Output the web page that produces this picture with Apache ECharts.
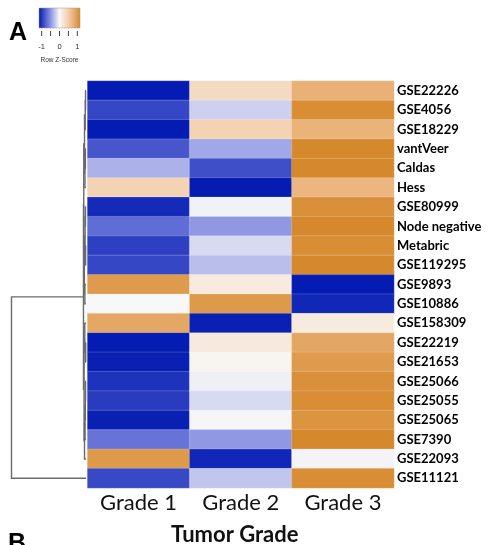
<!DOCTYPE html>
<html>
<head>
<meta charset="utf-8">
<script src="https://cdn.jsdelivr.net/npm/echarts@6/dist/echarts.min.js"></script>
<style>
html,body{margin:0;padding:0;background:#fff}
#chart{width:495px;height:545px}
</style>
</head>
<body>
<div id="chart"></div>
<script>
// Row labels (datasets), top to bottom
const datasets = ['GSE22226','GSE4056','GSE18229','vantVeer','Caldas','Hess','GSE80999',
  'Node negative','Metabric','GSE119295','GSE9893','GSE10886','GSE158309','GSE22219',
  'GSE21653','GSE25066','GSE25055','GSE25065','GSE7390','GSE22093','GSE11121'];
const grades = ['Grade 1','Grade 2','Grade 3'];

// Row z-scores per tumor grade
const grade1 = [-1.13,-0.90,-1.13,-0.82,-0.35, 0.42,-1.05,-0.70,-0.94,-0.90, 0.98, 0.00, 0.86,-1.13,-1.11,-1.01,-0.96,-1.11,-0.67, 0.99,-0.89];
const grade2 = [ 0.34,-0.20, 0.42,-0.40,-0.86,-1.13,-0.03,-0.48,-0.15,-0.29, 0.15, 0.99,-1.11, 0.17, 0.05,-0.04,-0.15,-0.01,-0.48,-1.07,-0.25];
const grade3 = [ 0.77, 1.10, 0.75, 1.15, 1.15, 0.72, 1.08, 1.15, 1.10, 1.15,-1.13,-1.07, 0.15, 0.87, 0.98, 1.08, 1.10, 1.04, 1.15,-0.02, 1.10];

// Colour key ticks
const keyTicks = [-1, -0.5, 0, 0.5, 1];
const keyTickLabels = ['-1', '', '0', '', '1'];

// Row clustering: [left, right, height]; ids >= datasets.length point to earlier merges
const merges = [
  [0, 1, 0.006], [21, 2, 0.010], [3, 4, 0.008], [23, 5, 0.014], [22, 24, 0.020],
  [6, 7, 0.007], [8, 9, 0.005], [26, 27, 0.012], [10, 11, 0.015], [28, 29, 0.022],
  [25, 30, 0.030], [13, 14, 0.004], [12, 32, 0.016], [15, 16, 0.006], [34, 17, 0.009],
  [35, 18, 0.013], [36, 19, 0.020], [33, 37, 0.026], [31, 38, 0.034], [39, 20, 1.0]
];

const zMin = -1.15, zMax = 1.15;
const palette = ['#0018B0', '#7B85DF', '#F8F8F8', '#F3C59C', '#D6892C'];

const heatData = [];
[grade1, grade2, grade3].forEach((col, gi) => {
  col.forEach((v, ri) => heatData.push([gi, ri, v]));
});

// Dendrogram segments: node position = (height, mean of child positions)
const n = datasets.length;
const nodePos = [];
for (let i = 0; i < n; i++) nodePos[i] = { h: 0, y: i };
const dendroData = merges.map((m, k) => {
  const a = nodePos[m[0]], b = nodePos[m[1]];
  nodePos[n + k] = { h: m[2], y: (a.y + b.y) / 2 };
  return [m[2], a.y, a.h, b.y, b.h];
});

const chart = echarts.init(document.getElementById('chart'), null, { renderer: 'canvas' });

const keyLeft = 39, keyTop = 8, keyW = 41, keyH = 20;
const keyX = v => keyLeft + (v - zMin) / (zMax - zMin) * keyW;
const graphics = [
  { type: 'text', left: 9, top: 21, style: { text: 'A', font: 'bold 25px "Liberation Sans"', fill: '#000' } },
  { type: 'text', left: 8, top: 532, style: { text: 'B', font: 'bold 25px "Liberation Sans"', fill: '#000' } },
  {
    type: 'rect', shape: { x: keyLeft, y: keyTop, width: keyW, height: keyH },
    style: {
      fill: new echarts.graphic.LinearGradient(0, 0, 1, 0,
        palette.map((c, i) => ({ offset: i / (palette.length - 1), color: c }))),
      stroke: '#999', lineWidth: 0.5
    }
  },
  { type: 'text', x: keyLeft + keyW / 2, y: 60,
    style: { text: 'Row Z-Score', font: '6.5px "Liberation Sans"', fill: '#333', align: 'center', verticalAlign: 'middle' } }
];
keyTicks.forEach((t, i) => {
  const x = keyX(t);
  graphics.push({ type: 'line', shape: { x1: x, y1: keyTop + keyH + 3, x2: x, y2: keyTop + keyH + 8 },
    style: { stroke: '#444', lineWidth: 1 } });
  if (keyTickLabels[i]) {
    graphics.push({ type: 'text', x: x, y: 47,
      style: { text: keyTickLabels[i], font: '7.5px "Liberation Sans"', fill: '#333', align: 'center', verticalAlign: 'middle' } });
  }
});

chart.setOption({
  backgroundColor: '#ffffff',
  animation: false,
  grid: [
    { left: 87.5, top: 81, width: 306.5, height: 407, outerBoundsMode: 'none', containLabel: false },
    { left: 11.5, top: 81, width: 74.5, height: 407, outerBoundsMode: 'none', containLabel: false }
  ],
  xAxis: [
    {
      type: 'category', data: grades, gridIndex: 0, position: 'bottom',
      axisLine: { show: false }, axisTick: { show: false }, splitLine: { show: false },
      axisLabel: { fontFamily: 'Lato', fontSize: 22, color: '#111', margin: 4 },
      name: 'Tumor Grade', nameLocation: 'middle', nameGap: 36,
      nameTextStyle: { fontFamily: 'Lato', fontWeight: 'bold', fontSize: 22, color: '#111', padding: [0, 12, 0, 0] }
    },
    { type: 'value', gridIndex: 1, min: 0, max: 1, inverse: true, show: false }
  ],
  yAxis: [
    {
      type: 'category', data: datasets, gridIndex: 0, inverse: true, position: 'right',
      axisLine: { show: false }, axisTick: { show: false }, splitLine: { show: false },
      axisLabel: { fontFamily: 'Lato', fontWeight: 'bold', fontSize: 13, color: '#000', margin: 3 }
    },
    { type: 'value', gridIndex: 1, min: -0.5, max: n - 0.5, inverse: true, show: false }
  ],
  visualMap: {
    type: 'continuous', show: false, seriesIndex: 0, dimension: 2,
    min: zMin, max: zMax, inRange: { color: palette }
  },
  graphic: graphics,
  series: [
    {
      type: 'heatmap', xAxisIndex: 0, yAxisIndex: 0, data: heatData,
      itemStyle: { borderColor: 'rgba(255,255,255,0.3)', borderWidth: 0.6 },
      emphasis: { disabled: true }
    },
    {
      type: 'custom', xAxisIndex: 1, yAxisIndex: 1, clip: false, silent: true,
      data: dendroData,
      encode: { x: 0, y: 1 },
      renderItem: (params, api) => {
        const h = api.value(0), y1 = api.value(1), h1 = api.value(2), y2 = api.value(3), h2 = api.value(4);
        const pts = [api.coord([h1, y1]), api.coord([h, y1]), api.coord([h, y2]), api.coord([h2, y2])];
        return { type: 'polyline', shape: { points: pts },
          style: { stroke: '#6b6b6b', lineWidth: 1.4, fill: null } };
      }
    }
  ]
});
</script>
</body>
</html>
